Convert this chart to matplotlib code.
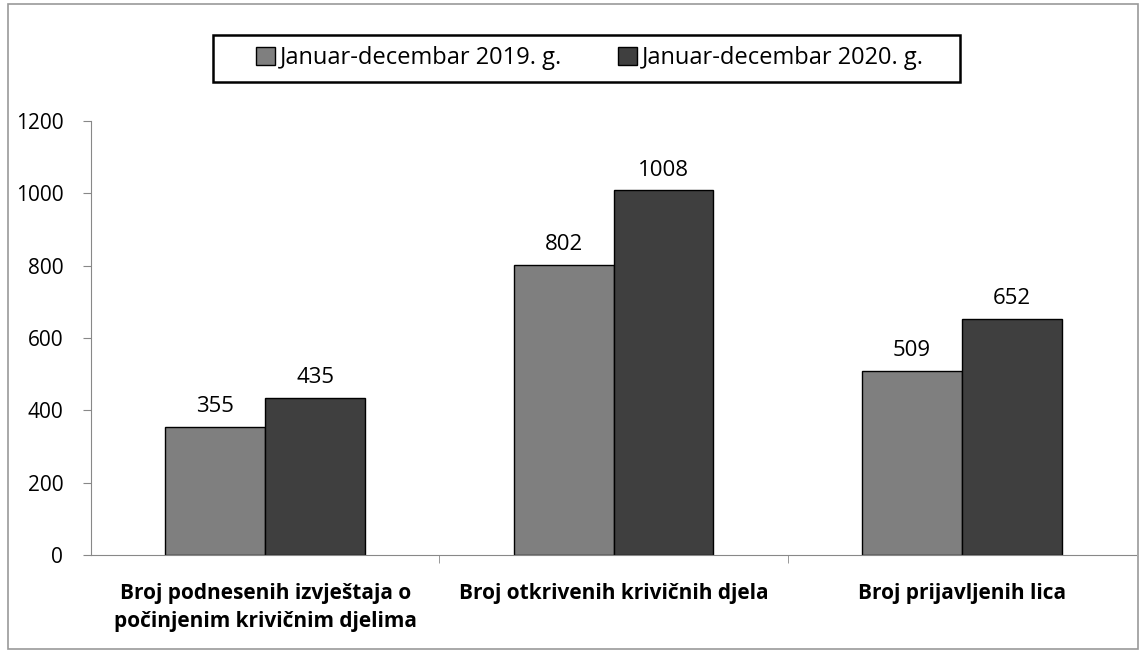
import matplotlib
matplotlib.use("Agg")
import matplotlib.pyplot as plt
import numpy as np
from matplotlib.patches import Rectangle

categories = ["Broj podnesenih izvještaja o\npočinjenim krivičnim djelima",
              "Broj otkrivenih krivičnih djela",
              "Broj prijavljenih lica"]
series_names = ["Januar-decembar 2019. g.", "Januar-decembar 2020. g."]
values_2019 = [355, 802, 509]
values_2020 = [435, 1008, 652]
yticks = [0, 200, 400, 600, 800, 1000, 1200]

plt.rcParams['font.family'] = ['Open Sans', 'DejaVu Sans']

W, H = 1144, 657
fig = plt.figure(figsize=(W/100, H/100), dpi=100)
ax = fig.add_axes([91/W, 102/H, 1045/W, 434/H])

x = np.arange(len(categories))
w = 0.287
c1, c2 = "#7f7f7f", "#3f3f3f"
b1 = ax.bar(x - w/2, values_2019, w, color=c1, edgecolor="black", linewidth=1.0, label=series_names[0])
b2 = ax.bar(x + w/2, values_2020, w, color=c2, edgecolor="black", linewidth=1.0, label=series_names[1])
for bars in (b1, b2):
    for r in bars:
        ax.annotate(f"{int(r.get_height())}", (r.get_x() + r.get_width()/2, r.get_height()),
                    xytext=(0, 7), textcoords="offset points", ha="center", va="bottom", fontsize=16)

ax.set_xlim(-0.5, 2.5)
ax.set_ylim(0, 1200)
ax.set_yticks(yticks)
ax.set_yticklabels([str(t) for t in yticks], fontsize=15)
ax.set_xticks(x)
ax.set_xticklabels(categories, fontsize=15, fontweight="bold", linespacing=1.45)
ax.tick_params(axis="x", length=0, pad=20)
ax.set_xticks([0.5, 1.5], minor=True)
ax.tick_params(axis="x", which="minor", length=6, color="#888888")
ax.tick_params(axis="y", length=6, color="#888888", pad=14)
for s in ["top", "right"]:
    ax.spines[s].set_visible(False)
ax.spines["left"].set_color("#888888")
ax.spines["bottom"].set_color("#888888")

leg = fig.legend(handles=[b1, b2], labels=series_names, loc="center",
                 bbox_to_anchor=(590/W, 1 - 58/H), ncol=2, fontsize=17,
                 frameon=False, handlelength=0.8,
                 handleheight=0.8, handletextpad=0.2, columnspacing=2.4,
                 borderpad=0.0, borderaxespad=0)

# legend frame
fig.patches.append(Rectangle((213/W, 1 - 82/H), (960 - 213)/W, 47/H, transform=fig.transFigure,
                             fill=False, edgecolor="black", linewidth=1.8))

# outer chart border
fig.patches.append(Rectangle((8/W, 8/H), 1130/W, 645/H, transform=fig.transFigure,
                             fill=False, edgecolor="#999999", linewidth=1.2))

fig.savefig("out.png", dpi=100)
